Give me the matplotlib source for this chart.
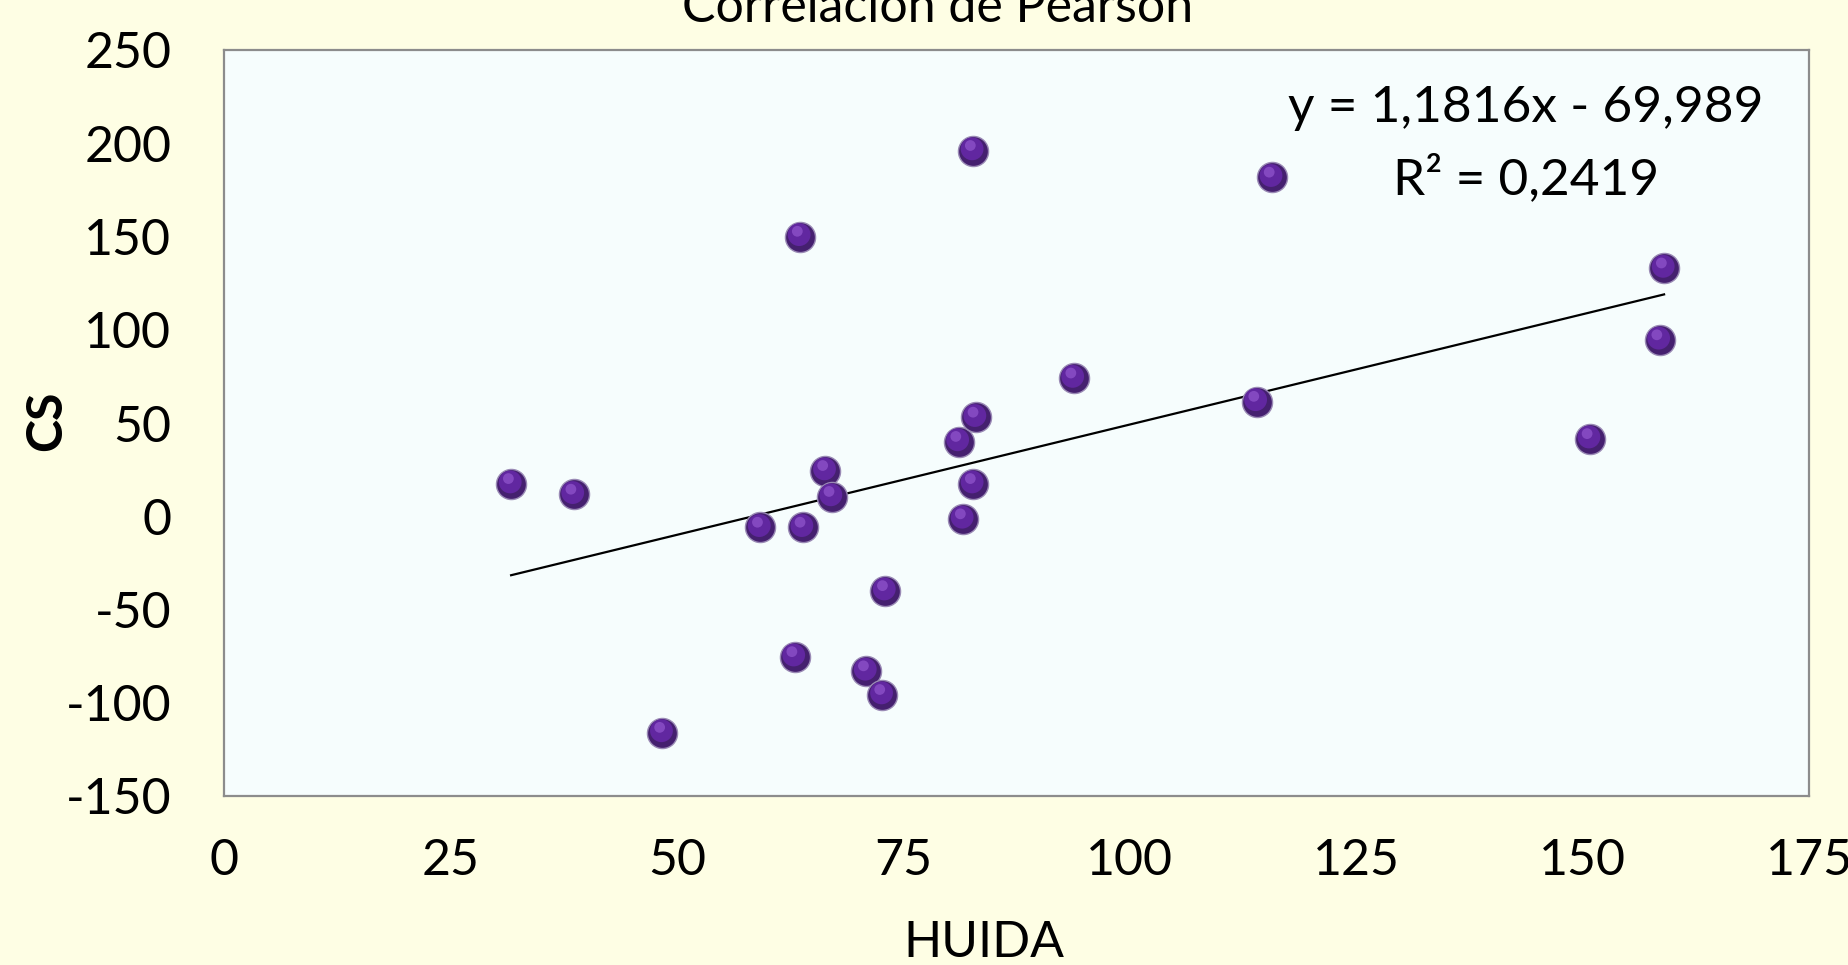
import matplotlib
matplotlib.use("Agg")
import matplotlib.pyplot as plt
import numpy as np

plt.rcParams['font.family'] = ['Lato', 'DejaVu Sans']
plt.rcParams['axes.unicode_minus'] = False

huida = [31.7, 38.6, 48.4, 59.2, 63.0, 63.6, 63.9, 66.4, 67.1, 70.9, 72.7, 73.0,
         81.1, 81.6, 82.7, 82.7, 83.0, 93.8, 114.0, 115.7, 150.8, 158.5, 159.0]
cs = [17.4, 11.7, -116, -6, -75.4, 150, -6, 24.4, 10.5, -83, -95.7, -40,
      40, -1.5, 196, 17.4, 53, 74, 61.5, 181.7, 41.5, 94.5, 133]

x_ticks = [0, 25, 50, 75, 100, 125, 150, 175]
y_ticks = [-150, -100, -50, 0, 50, 100, 150, 200, 250]
title = "Correlación de Pearson"
eq_text = "y = 1,1816x - 69,989"
r2_text = "R² = 0,2419"

W, H = 1848, 965
fig = plt.figure(figsize=(W/100, H/100), dpi=100, facecolor='#FEFEE4')
ax = fig.add_axes([224/W, 1-796/H, (1809-224)/W, (796-50)/H])
ax.set_facecolor('#F6FDFD')
for s in ax.spines.values():
    s.set_color('#8C8C8C')
    s.set_linewidth(1.6)

ax.set_xlim(0, 175)
ax.set_ylim(-150, 250)
ax.set_xticks(x_ticks)
ax.set_yticks(y_ticks)
ax.tick_params(length=0, labelsize=36, colors='black')
ax.tick_params(axis='y', pad=38)
ax.tick_params(axis='x', pad=30)

# trendline
xa = np.array(huida); ya = np.array(cs)
m, b = np.polyfit(xa, ya, 1)
xl = np.array([xa.min(), xa.max()])
ax.plot(xl, m*xl + b, color='black', lw=1.6, zorder=2)

# spheres
ax.scatter(huida, cs, s=470, color='#45206F', edgecolors='#9A8AB5', linewidths=1.0, zorder=3)
ax.scatter(np.array(huida) - 0.1, np.array(cs) + 1.0, s=270, color='#6127A0', edgecolors='none', zorder=4)
ax.scatter(np.array(huida) - 0.3, np.array(cs) + 2.8, s=60, color='#8A4FC6', edgecolors='none', zorder=5, alpha=0.85)

fig.text(938/W, 1-22/H, title, ha='center', va='baseline', fontsize=36)
fig.text(1526/W, 1-108/H, eq_text, ha='center', va='center', fontsize=37)
fig.text(1526/W, 1-179/H, r2_text, ha='center', va='center', fontsize=37)

fig.text(984/W, 1-943/H, "HUIDA", ha='center', va='center', fontsize=36)
fig.text(47/W, 1-421/H, "CS", ha='center', va='center', rotation=90, fontsize=36, fontweight='bold')

fig.savefig("out.png", dpi=100, facecolor=fig.get_facecolor())
